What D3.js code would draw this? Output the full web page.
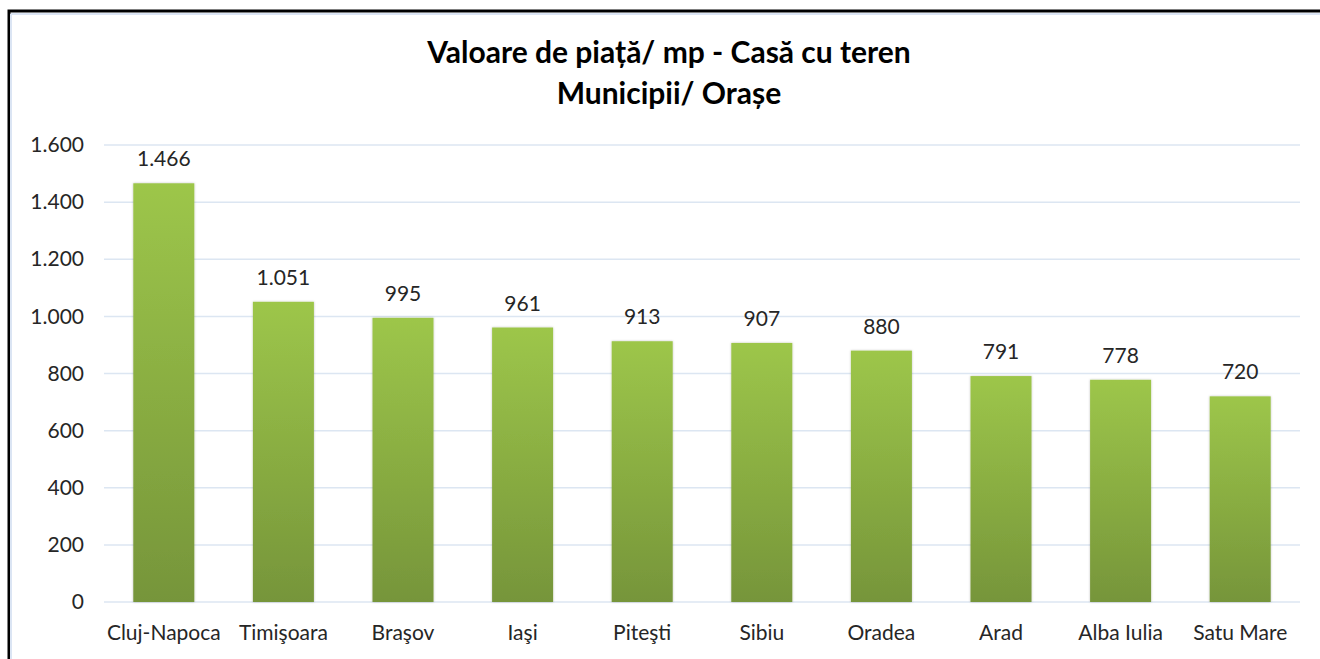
<!DOCTYPE html>
<html>
<head>
<meta charset="utf-8">
<title>Valoare de piață/ mp - Casă cu teren</title>
<script src="https://cdn.jsdelivr.net/npm/d3@7"></script>
<style>
  body { margin: 0; background: #fff; }
  text { font-family: Lato, "Open Sans", sans-serif; }
</style>
</head>
<body>
<script>
// data
var cities = ["Cluj-Napoca", "Timişoara", "Braşov", "Iaşi", "Piteşti", "Sibiu", "Oradea", "Arad", "Alba Iulia", "Satu Mare"];
var values = [1466, 1051, 995, 961, 913, 907, 880, 791, 778, 720];
var yTicks = [0, 200, 400, 600, 800, 1000, 1200, 1400, 1600];
var titleLines = ["Valoare de piață/ mp - Casă cu teren", "Municipii/ Orașe"];

var W = 1320, H = 659;
var margin = {top: 145, right: 20, bottom: 57, left: 104};
var width = 1300 - margin.left,
    height = 602 - margin.top;

var fmt = d3.formatLocale({decimal: ",", thousands: ".", grouping: [3], currency: ["", ""]}).format(",d");

var svg = d3.select("body").append("svg")
    .attr("width", W)
    .attr("height", H);

var defs = svg.append("defs");
var grad = defs.append("linearGradient")
    .attr("id", "barGrad")
    .attr("x1", 0).attr("y1", 0).attr("x2", 0).attr("y2", 1);
grad.append("stop").attr("offset", "0%").attr("stop-color", "#9dc64a");
grad.append("stop").attr("offset", "100%").attr("stop-color", "#76953a");

var shadow = defs.append("filter").attr("id", "shadow")
    .attr("x", "-10%").attr("y", "-10%").attr("width", "120%").attr("height", "120%");
shadow.append("feDropShadow")
    .attr("dx", 0).attr("dy", 0).attr("stdDeviation", 1.2)
    .attr("flood-color", "#000").attr("flood-opacity", 0.25);

// frame
svg.append("rect")
    .attr("x", 9).attr("y", 11)
    .attr("width", W + 20).attr("height", H + 20)
    .style("fill", "#fff")
    .style("stroke", "#000")
    .style("stroke-width", 3);
svg.append("path")
    .attr("d", "M11,14 H" + W + " M11,14 V" + H)
    .style("stroke", "#dbe5f4")
    .style("stroke-width", 2)
    .style("fill", "none");

// title
svg.append("g").selectAll("text")
    .data(titleLines)
    .join("text")
    .attr("x", 669)
    .attr("y", function(d, i) { return 63 + i * 41; })
    .attr("text-anchor", "middle")
    .attr("font-size", 30)
    .attr("font-weight", "bold")
    .style("fill", "#000")
    .text(function(d) { return d; });

var x = d3.scaleBand().domain(cities).range([0, width]).paddingInner(0.49).paddingOuter(0.245);
var y = d3.scaleLinear().domain([0, 1600]).range([height, 0]);

var chart = svg.append("g")
    .attr("transform", "translate(" + margin.left + "," + margin.top + ")");

// gridlines
chart.append("g").selectAll("line")
    .data(yTicks)
    .join("line")
    .attr("x1", 0).attr("x2", width)
    .attr("y1", function(d) { return y(d); })
    .attr("y2", function(d) { return y(d); })
    .style("stroke", "#dce6f2")
    .style("stroke-width", 1.5);

// y axis labels
var yAxis = chart.append("g")
    .call(d3.axisLeft(y).tickValues(yTicks).tickFormat(fmt).tickSize(0).tickPadding(20));
yAxis.select(".domain").remove();
yAxis.selectAll("text")
    .attr("font-size", 21)
    .style("fill", "#262626");

// x axis labels
var xAxis = chart.append("g")
    .attr("transform", "translate(0," + height + ")")
    .call(d3.axisBottom(x).tickSize(0).tickPadding(23));
xAxis.select(".domain").remove();
xAxis.selectAll("text")
    .attr("font-size", 21)
    .style("fill", "#262626");

var data = cities.map(function(c, i) { return {city: c, value: values[i]}; });

chart.selectAll("rect.bar")
    .data(data)
    .join("rect")
    .attr("class", "bar")
    .attr("x", function(d) { return x(d.city); })
    .attr("y", function(d) { return y(d.value); })
    .attr("width", x.bandwidth())
    .attr("height", function(d) { return height - y(d.value); })
    .style("fill", "url(#barGrad)")
    .attr("filter", "url(#shadow)");

chart.selectAll("text.val")
    .data(data)
    .join("text")
    .attr("class", "val")
    .attr("x", function(d) { return x(d.city) + x.bandwidth() / 2; })
    .attr("y", function(d) { return y(d.value) - 17; })
    .attr("text-anchor", "middle")
    .attr("font-size", 21)
    .style("fill", "#262626")
    .text(function(d) { return fmt(d.value); });
</script>
</body>
</html>
